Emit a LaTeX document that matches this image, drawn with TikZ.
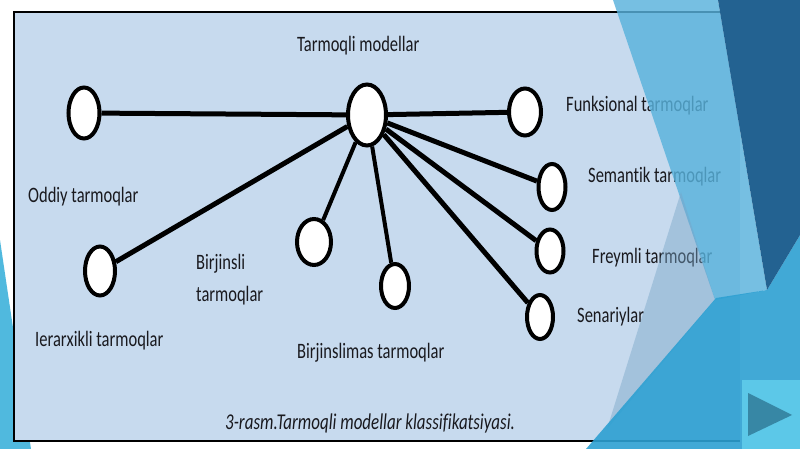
\documentclass[tikz,border=0pt]{standalone}
\usepackage{fontspec}
\setmainfont{Carlito}[FakeStretch=0.75,Ligatures=NoCommon]
\usetikzlibrary{shapes.geometric}
\definecolor{picbg}{RGB}{199,218,238}
\definecolor{txt}{RGB}{25,25,30}
\definecolor{leftblue}{RGB}{80,185,222}
\definecolor{band}{RGB}{88,178,220}
\definecolor{wedge}{RGB}{120,165,200}
\definecolor{midblue}{RGB}{45,160,210}
\definecolor{darkblue}{RGB}{35,98,145}
\definecolor{btn}{RGB}{92,200,232}
\definecolor{btntri}{RGB}{55,135,165}
\begin{document}
\begin{tikzpicture}[x=1pt,y=-1pt,
  dot/.style={ellipse, draw=black, line width=4pt, fill=white, inner sep=0pt},
  link/.style={draw=black, line width=5pt},
  thinlink/.style={draw=black, line width=4pt},
  lbl/.style={anchor=base west, inner sep=0pt, font=\fontsize{22}{26}\selectfont, text=txt},
  captxt/.style={anchor=base west, inner sep=0pt, font=\fontsize{22.6}{26}\selectfont\itshape, text=txt}]
\useasboundingbox (0,0) rectangle (800,449);
\fill[white] (0,0) rectangle (800,449);
\fill[leftblue] (0,240) -- (31,449) -- (0,449) -- cycle;
\fill[picbg] (14,12) rectangle (740,441);
\draw[line width=2pt] (740,12) -- (14,12) -- (14,441) -- (740,441);
% nodes
\node[dot, minimum width=38pt, minimum height=61pt] (C) at (367,115) {};
\node[dot, minimum width=31pt, minimum height=51pt] (O) at (84,113) {};
\node[dot, minimum width=30pt, minimum height=49pt] (I) at (100,271) {};
\node[dot, minimum width=32pt, minimum height=47pt] (F) at (525,112) {};
\node[dot, minimum width=27pt, minimum height=46pt] (S) at (552,187) {};
\node[dot, minimum width=27pt, minimum height=43pt] (Fr) at (550,251) {};
\node[dot, minimum width=26pt, minimum height=44pt] (Sn) at (540,317) {};
\node[dot, minimum width=34pt, minimum height=46pt] (B1) at (314,242) {};
\node[dot, minimum width=28pt, minimum height=44pt] (B2) at (395,286) {};
% links
\draw[link] (C) -- (O);
\draw[link] (C) -- (I);
\draw[link] (C) -- (F);
\draw[link] (C) -- (S);
\draw[link] (C) -- (Fr);
\draw[link] (C) -- (Sn);
\draw[thinlink] (C) -- (B1);
\draw[thinlink] (C) -- (B2);
% labels
\node[lbl] (tC) at (297,52) {Tarmoqli modellar};
\node[lbl] (tO) at (28,203) {Oddiy tarmoqlar};
\node[lbl] (tI) at (35,346) {Ierarxikli tarmoqlar};
\node[lbl] (tB1) at (196,269) {Birjinsli};
\node[lbl] (tB2) at (196,301) {tarmoqlar};
\node[lbl] (tB2m) at (297,358) {Birjinslimas tarmoqlar};
\node[lbl] (tF) at (566,112) {Funksional tarmoqlar};
\node[lbl] (tS) at (588,183) {Semantik tarmoqlar};
\node[lbl] (tFr) at (592,263) {Freymli tarmoqlar};
\node[lbl] (tSn) at (577,322) {Senariylar};
\node[captxt] (capt) at (225,429) {3-rasm.Tarmoqli modellar klassifikatsiyasi.};
% slide decoration
\fill[band, opacity=0.82] (613,0) -- (718,0) -- (767,290) -- (715,300) -- cycle;
\fill[wedge, opacity=0.45] (681,192) -- (715,300) -- (607,429) -- cycle;
\fill[midblue, opacity=0.9] (586,449) -- (716,298) -- (767,290) -- (800,235) -- (800,449) -- cycle;
\fill[darkblue] (718,0) -- (800,0) -- (800,235) -- (767,290) -- cycle;
\fill[btn] (742,380) rectangle (800,449);
\fill[btntri] (748,393) -- (792,415) -- (748,436) -- cycle;
\end{tikzpicture}
\end{document}
